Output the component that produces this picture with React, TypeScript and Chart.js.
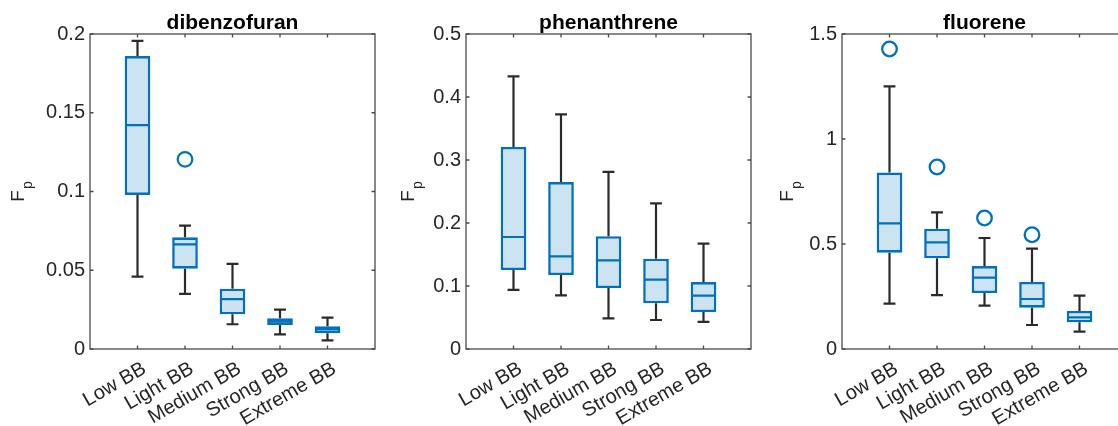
import React, { useEffect, useRef } from 'react';
import { Chart, registerables } from 'chart.js';

Chart.register(...registerables);

// ---------- data ----------
const categories = ['Low BB', 'Light BB', 'Medium BB', 'Strong BB', 'Extreme BB'];

const dibenzofuranMin = [0.046, 0.035, 0.0157, 0.0093, 0.0055];
const dibenzofuranQ1 = [0.0978, 0.051, 0.022, 0.0152, 0.01];
const dibenzofuranMedian = [0.1422, 0.0664, 0.0317, 0.0173, 0.0125];
const dibenzofuranQ3 = [0.186, 0.0709, 0.0383, 0.0195, 0.0144];
const dibenzofuranMax = [0.1956, 0.0783, 0.054, 0.025, 0.0199];
const dibenzofuranOutlierCat = [2];
const dibenzofuranOutlierVal = [0.1204];

const phenanthreneMin = [0.0937, 0.085, 0.0487, 0.046, 0.0429];
const phenanthreneQ1 = [0.1254, 0.1175, 0.0968, 0.0725, 0.0587];
const phenanthreneMedian = [0.1778, 0.147, 0.1407, 0.11, 0.0847];
const phenanthreneQ3 = [0.3206, 0.265, 0.179, 0.1434, 0.1063];
const phenanthreneMax = [0.4328, 0.3725, 0.281, 0.2312, 0.1672];
const phenanthreneOutlierCat: number[] = [];
const phenanthreneOutlierVal: number[] = [];

const fluoreneMin = [0.2159, 0.257, 0.2063, 0.1143, 0.0825];
const fluoreneQ1 = [0.4587, 0.4317, 0.2667, 0.1968, 0.127];
const fluoreneMedian = [0.598, 0.508, 0.3397, 0.238, 0.151];
const fluoreneQ3 = [0.841, 0.573, 0.395, 0.319, 0.181];
const fluoreneMax = [1.251, 0.651, 0.5286, 0.4778, 0.254];
const fluoreneOutlierCat = [1, 2, 3, 4];
const fluoreneOutlierVal = [1.4286, 0.8667, 0.6238, 0.544];

const dibenzofuranYTicks = [0, 0.05, 0.1, 0.15, 0.2];
const phenanthreneYTicks = [0, 0.1, 0.2, 0.3, 0.4, 0.5];
const fluoreneYTicks = [0, 0.5, 1, 1.5];

// ---------- styles ----------
const FONT = "'Liberation Sans', Arial, Helvetica, sans-serif";
const BLUE = '#0072BD';
const FILL = 'rgb(204,227,242)';
const WHISKER = '#2b2b2b';
const AXIS = '#4a4a4a';
const TEXT = '#262626';
const CAP = 0.125;
const HALF = 0.245;
const CANVAS_W = 400;

type Spec = {
  title: string;
  min: number[];
  q1: number[];
  med: number[];
  q3: number[];
  max: number[];
  outCat: number[];
  outVal: number[];
  yTicks: number[];
  left: number;
  axisWidth: number;
  padRight: number;
  labelX: number;
};

const specs: Spec[] = [
  {
    title: 'dibenzofuran', min: dibenzofuranMin, q1: dibenzofuranQ1, med: dibenzofuranMedian,
    q3: dibenzofuranQ3, max: dibenzofuranMax, outCat: dibenzofuranOutlierCat, outVal: dibenzofuranOutlierVal,
    yTicks: dibenzofuranYTicks, left: 0, axisWidth: 90, padRight: 25, labelX: 24,
  },
  {
    title: 'phenanthrene', min: phenanthreneMin, q1: phenanthreneQ1, med: phenanthreneMedian,
    q3: phenanthreneQ3, max: phenanthreneMax, outCat: phenanthreneOutlierCat, outVal: phenanthreneOutlierVal,
    yTicks: phenanthreneYTicks, left: 380, axisWidth: 86, padRight: 29, labelX: 34,
  },
  {
    title: 'fluorene', min: fluoreneMin, q1: fluoreneQ1, med: fluoreneMedian,
    q3: fluoreneQ3, max: fluoreneMax, outCat: fluoreneOutlierCat, outVal: fluoreneOutlierVal,
    yTicks: fluoreneYTicks, left: 760, axisWidth: 82, padRight: 33, labelX: 33,
  },
];

const fmt = (v: number) => String(Number(v.toFixed(4)));

function Panel({ spec }: { spec: Spec }) {
  const ref = useRef<HTMLCanvasElement>(null);
  useEffect(() => {
    const canvas = ref.current!;
    const xs = categories.map((_, i) => i + 1);
    const boxData = xs.map((x, i) => ({ x, y: [spec.q1[i], spec.q3[i]] }));
    const whiskers: any[] = [];
    const medians: any[] = [];
    xs.forEach((x, i) => {
      whiskers.push(
        { x, y: spec.q3[i] }, { x, y: spec.max[i] }, { x, y: null },
        { x: x - CAP, y: spec.max[i] }, { x: x + CAP, y: spec.max[i] }, { x, y: null },
        { x, y: spec.q1[i] }, { x, y: spec.min[i] }, { x, y: null },
        { x: x - CAP, y: spec.min[i] }, { x: x + CAP, y: spec.min[i] }, { x, y: null },
      );
      medians.push({ x: x - HALF, y: spec.med[i] }, { x: x + HALF, y: spec.med[i] }, { x, y: null });
    });
    const outliers = spec.outCat.map((c, i) => ({ x: c, y: spec.outVal[i] }));
    const yMax = spec.yTicks[spec.yTicks.length - 1];

    const framePlugin = {
      id: 'frame',
      afterDraw(chart: any) {
        const { ctx, chartArea: a, scales } = chart;
        ctx.save();
        ctx.strokeStyle = AXIS;
        ctx.lineWidth = 1.3;
        ctx.strokeRect(a.left, a.top, a.right - a.left, a.bottom - a.top);
        const tl = 3.5;
        ctx.beginPath();
        xs.forEach((x) => {
          const px = scales.x.getPixelForValue(x);
          ctx.moveTo(px, a.bottom); ctx.lineTo(px, a.bottom - tl);
          ctx.moveTo(px, a.top); ctx.lineTo(px, a.top + tl);
        });
        spec.yTicks.forEach((v) => {
          const py = scales.y.getPixelForValue(v);
          ctx.moveTo(a.left, py); ctx.lineTo(a.left + tl, py);
          ctx.moveTo(a.right, py); ctx.lineTo(a.right - tl, py);
        });
        ctx.stroke();
        ctx.fillStyle = '#000';
        ctx.font = `bold 21px ${FONT}`;
        ctx.textAlign = 'center';
        ctx.textBaseline = 'alphabetic';
        ctx.fillText(spec.title, (a.left + a.right) / 2, 28.5);
        const cy = (a.top + a.bottom) / 2;
        ctx.translate(spec.labelX, cy);
        ctx.rotate(-Math.PI / 2);
        ctx.fillStyle = TEXT;
        ctx.font = `19px ${FONT}`;
        const wF = ctx.measureText('F').width;
        ctx.font = `14px ${FONT}`;
        const wp = ctx.measureText('p').width;
        const total = wF + wp + 1;
        ctx.textAlign = 'left';
        ctx.font = `19px ${FONT}`;
        ctx.fillText('F', -total / 2, 0);
        ctx.font = `14px ${FONT}`;
        ctx.fillText('p', -total / 2 + wF + 1, 8);
        ctx.restore();
      },
    };

    const chart = new Chart(canvas, {
      data: {
        datasets: [
          {
            type: 'bar',
            data: boxData as any,
            backgroundColor: FILL,
            borderColor: BLUE,
            borderWidth: 2.6,
            borderSkipped: false,
            barPercentage: 0.54,
            categoryPercentage: 1,
            order: 3,
          },
          {
            type: 'line',
            data: whiskers,
            borderColor: WHISKER,
            borderWidth: 2.2,
            pointRadius: 0,
            spanGaps: false,
            fill: false,
            order: 2,
          },
          {
            type: 'line',
            data: medians,
            borderColor: BLUE,
            borderWidth: 2.2,
            pointRadius: 0,
            spanGaps: false,
            fill: false,
            order: 1,
          },
          {
            type: 'scatter',
            data: outliers,
            borderColor: BLUE,
            backgroundColor: 'rgba(0,0,0,0)',
            borderWidth: 2.3,
            pointRadius: 7.3,
            pointStyle: 'circle',
            order: 0,
          },
        ],
      },
      options: {
        animation: false,
        responsive: false,
        devicePixelRatio: 1,
        layout: { padding: { left: 0, right: spec.padRight, top: 34, bottom: 0 } },
        plugins: { legend: { display: false }, tooltip: { enabled: false }, title: { display: false } },
        scales: {
          x: {
            type: 'linear',
            min: 0,
            max: 6,
            offset: false,
            grid: { display: false, drawTicks: false, offset: false },
            border: { display: false },
            afterBuildTicks: (s: any) => { s.ticks = xs.map((v) => ({ value: v })); },
            afterFit: (s: any) => { s.height = 77; s.paddingLeft = 0; s.paddingRight = 0; },
            ticks: {
              autoSkip: false,
              minRotation: 30,
              maxRotation: 30,
              padding: 8,
              labelOffset: 7,
              color: TEXT,
              font: { family: FONT, size: 20 },
              callback: (v: any) => categories[Math.round(Number(v)) - 1] ?? '',
            },
          },
          y: {
            type: 'linear',
            min: 0,
            max: yMax,
            grid: { display: false, drawTicks: false },
            border: { display: false },
            afterBuildTicks: (s: any) => { s.ticks = spec.yTicks.map((v) => ({ value: v })); },
            afterFit: (s: any) => { s.width = spec.axisWidth; s.paddingTop = 0; s.paddingBottom = 0; },
            ticks: {
              padding: 5,
              color: TEXT,
              font: { family: FONT, size: 20 },
              callback: (v: any) => fmt(Number(v)),
            },
          },
        },
      } as any,
      plugins: [framePlugin],
    });
    return () => chart.destroy();
  }, [spec]);

  return (
    <canvas
      ref={ref}
      width={CANVAS_W}
      height={426}
      style={{ position: 'absolute', left: spec.left, top: 0, width: CANVAS_W, height: 426 }}
    />
  );
}

export default function App() {
  return (
    <div
      style={{
        position: 'fixed', left: 0, top: 0, width: 1118, height: 426,
        overflow: 'hidden', background: '#fff',
      }}
    >
      {specs.map((s) => (
        <Panel key={s.title} spec={s} />
      ))}
    </div>
  );
}
